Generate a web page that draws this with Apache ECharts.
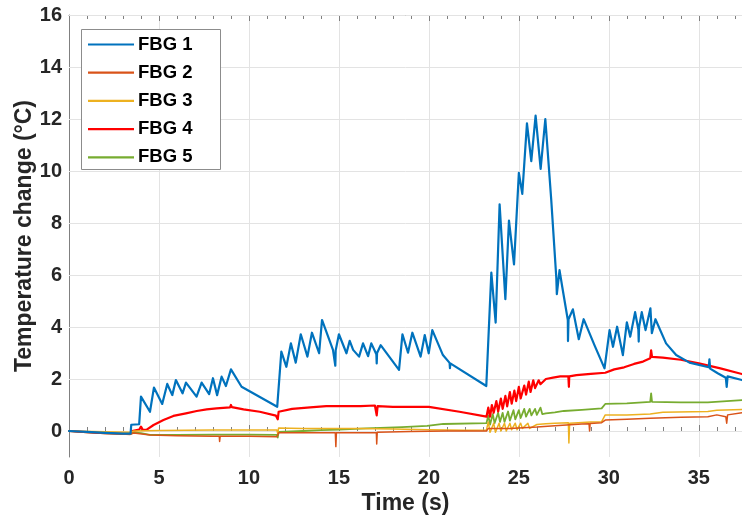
<!DOCTYPE html>
<html>
<head>
<meta charset="utf-8">
<script src="https://cdn.jsdelivr.net/npm/echarts@6/dist/echarts.min.js"></script>
<style>
html,body{margin:0;padding:0;background:#fff;}
#chart{width:742px;height:520px;}
</style>
</head>
<body>
<div id="chart"></div>
<script>
var seriesNames = ['FBG 1', 'FBG 2', 'FBG 3', 'FBG 4', 'FBG 5'];
var xTicks = [0, 5, 10, 15, 20, 25, 30, 35];
var yTicks = [0, 2, 4, 6, 8, 10, 12, 14, 16];

var fbg1T = [0, 1, 2, 3, 3.42, 3.46, 3.9, 4.0, 4.5, 4.72, 5.18, 5.46, 5.74, 5.94, 6.31, 6.5, 7.09, 7.37, 7.79, 8.0, 8.23, 8.48, 8.72, 9.0, 9.59, 11.57,
  11.8, 12.08, 12.33, 12.6, 12.88, 13.25, 13.5, 13.9, 14.06, 14.67, 14.78, 14.8, 14.82, 15.0, 15.42, 15.6, 15.79, 16.12, 16.34, 16.62, 16.8, 17.08, 17.1, 17.12, 17.32, 18.34, 18.53, 18.84, 19.08, 19.54, 19.77, 19.99, 20.19, 20.78, 21.15, 21.17, 21.19, 23.19,
  23.47, 23.71, 23.93, 24.25, 24.45, 24.73, 25.0, 25.19, 25.45, 25.69, 25.93, 26.21, 26.47, 26.8, 27.08, 27.11, 27.26, 27.41, 27.72, 27.73, 27.76, 28.0, 28.33, 28.6, 29.2, 29.76,
  30.04, 30.23, 30.46, 30.78, 31.0, 31.19, 31.46, 31.64, 31.66, 31.68, 31.83, 32.04, 32.31, 32.39, 32.59, 33.18, 33.74, 34.48, 35.55, 35.59, 35.63, 36.05, 36.5, 36.55, 36.6, 36.7, 37.4];
var fbg1V = [0, -0.03, -0.07, -0.1, -0.1, 0.24, 0.26, 1.32, 0.74, 1.67, 1.04, 1.81, 1.38, 1.96, 1.45, 1.86, 1.32, 1.86, 1.42, 2.03, 1.38, 2.09, 1.73, 2.37, 1.7, 0.93,
  3.05, 2.47, 3.37, 2.63, 3.72, 2.86, 3.78, 2.99, 4.27, 3.12, 3.05, 2.51, 3.1, 3.72, 2.99, 3.47, 3.12, 2.86, 3.37, 2.88, 3.37, 2.95, 2.6, 3.0, 3.3, 2.35, 3.72, 3.01, 3.78, 2.86, 3.69, 2.99, 3.88, 2.92, 2.62, 2.42, 2.6, 1.73,
  6.09, 4.17, 8.72, 5.07, 8.09, 6.41, 9.93, 9.12, 11.83, 10.38, 12.13, 10.08, 12.0, 8.88, 5.9, 5.26, 6.19, 5.55, 4.27, 3.46, 4.3, 4.68, 3.53, 4.3, 3.3, 2.41,
  3.88, 3.24, 4.01, 2.92, 4.18, 3.63, 4.57, 3.9, 3.44, 4.0, 4.57, 3.88, 4.72, 3.76, 4.3, 3.37, 2.92, 2.63, 2.45, 2.76, 2.4, 2.22, 2.05, 1.7, 2.1, 2.15, 1.96];

var fbg2T = [0, 2, 3.4, 3.6, 4.5, 6, 8, 8.35, 8.37, 8.4, 10, 11.55, 11.65, 13, 14.8, 14.83, 14.86, 17.08, 17.1, 17.13, 19, 21, 23.2, 23.3, 24.5, 26, 27, 28.5, 28.9, 28.93, 28.96, 29.6, 29.8, 31, 32.3, 32.4, 34, 35.5, 36, 36.5, 36.55, 36.6, 37.4];
var fbg2V = [0, -0.08, -0.13, -0.08, -0.15, -0.18, -0.2, -0.2, -0.4, -0.2, -0.2, -0.22, -0.07, -0.07, -0.07, -0.6, -0.07, -0.07, -0.5, -0.05, -0.02, 0.0, 0.0, 0.1, 0.1, 0.15, 0.2, 0.27, 0.28, 0.0, 0.29, 0.32, 0.42, 0.45, 0.49, 0.55, 0.53, 0.55, 0.62, 0.55, 0.3, 0.62, 0.7];

var fbg3T = [0, 2, 3.4, 3.6, 5, 8, 11.55, 11.6, 11.65, 13, 16, 18, 20, 22, 23.2, 23.3, 23.4, 23.6, 23.7, 23.9, 24.0, 24.2, 24.3, 24.5, 24.6, 24.8, 24.9, 25.1, 25.2, 25.5, 25.6, 26.0, 26.5, 27.0, 27.75, 27.78, 27.82, 29.0, 29.6, 29.8, 31, 32.3, 32.35, 33, 35.5, 36, 37.4];
var fbg3V = [0, -0.03, -0.05, 0.0, 0.02, 0.04, 0.04, -0.1, 0.12, 0.1, 0.1, 0.08, 0.05, 0.03, 0.04, 0.35, -0.05, 0.3, -0.05, 0.3, 0.0, 0.3, 0.0, 0.3, 0.05, 0.3, 0.05, 0.3, 0.1, 0.3, 0.1, 0.25, 0.28, 0.3, 0.32, -0.46, 0.3, 0.35, 0.36, 0.62, 0.62, 0.65, 0.72, 0.72, 0.75, 0.8, 0.83];

var fbg4T = [0, 1, 2, 3.4, 3.5, 3.9, 4.0, 4.1, 4.3, 4.7, 5.25, 5.8, 6.5, 7.1, 7.65, 8.2, 8.95, 9.0, 9.05, 9.7, 10.6, 11.5, 11.6, 11.65, 12.4, 13.4, 14.3, 16.2, 17.0, 17.1, 17.15, 18.0, 20.0, 21.7, 23.2,
  23.3, 23.4, 23.5, 23.6, 23.75, 23.85, 24.0, 24.1, 24.25, 24.35, 24.5, 24.6, 24.75, 24.85, 25.0, 25.1, 25.3, 25.4, 25.55, 25.65, 25.8, 25.9, 26.1, 26.2, 26.5, 26.9, 27.3, 27.75, 27.78, 27.8, 28.2, 29.0, 29.8, 30.3, 30.85, 31.4, 31.9, 32.3, 32.35, 32.4, 33.0, 34.0, 35.0, 36.2, 37.4];
var fbg4V = [0, -0.04, -0.08, -0.1, 0.0, 0.05, 0.17, 0.05, 0.04, 0.23, 0.42, 0.58, 0.68, 0.77, 0.83, 0.87, 0.91, 1.0, 0.92, 0.83, 0.74, 0.59, 0.45, 0.74, 0.85, 0.91, 0.96, 0.96, 0.98, 0.6, 0.96, 0.93, 0.93, 0.74, 0.55,
  0.9, 0.55, 1.0, 0.7, 1.15, 0.75, 1.25, 0.85, 1.35, 0.95, 1.5, 1.05, 1.55, 1.15, 1.7, 1.25, 1.75, 1.4, 1.9, 1.5, 1.95, 1.65, 1.95, 1.8, 2.0, 2.05, 2.1, 2.1, 1.7, 2.1, 2.15, 2.2, 2.24, 2.37, 2.45, 2.58, 2.67, 2.8, 3.1, 2.85, 2.82, 2.74, 2.6, 2.41, 2.19];

var fbg5T = [0, 1, 2, 3.4, 3.6, 4.0, 4.5, 6, 8, 10, 11.55, 11.6, 11.65, 13, 14, 15, 16.5, 18.5, 19.9, 20.8, 23.2,
  23.3, 23.4, 23.55, 23.65, 23.85, 23.95, 24.1, 24.2, 24.4, 24.5, 24.7, 24.8, 25.0, 25.1, 25.3, 25.4, 25.6, 25.7, 25.9, 26.0, 26.2, 26.3, 26.5, 27.0, 27.5, 28.5, 29.6, 29.8, 31, 32.3, 32.35, 32.4, 34, 35.5, 37.4];
var fbg5V = [0, -0.05, -0.09, -0.12, -0.05, -0.08, -0.15, -0.15, -0.14, -0.14, -0.15, -0.25, -0.03, 0.0, 0.03, 0.05, 0.1, 0.15, 0.2, 0.27, 0.3,
  0.6, 0.25, 0.65, 0.3, 0.7, 0.35, 0.7, 0.35, 0.75, 0.4, 0.8, 0.45, 0.8, 0.5, 0.85, 0.55, 0.85, 0.6, 0.85, 0.62, 0.9, 0.65, 0.68, 0.72, 0.77, 0.81, 0.87, 1.04, 1.06, 1.12, 1.45, 1.12, 1.1, 1.1, 1.19];

var colors = ['#0072BD', '#D95319', '#EDB120', '#FF0000', '#77AC30'];
var widths = [2.2, 1.5, 1.5, 2.2, 1.8];
var allT = [fbg1T, fbg2T, fbg3T, fbg4T, fbg5T];
var allV = [fbg1V, fbg2V, fbg3V, fbg4V, fbg5V];

function pairs(t, v) { return t.map(function (x, i) { return [x, v[i]]; }); }

var font = 'Liberation Sans, Arial, Helvetica, sans-serif';
var axisGray = '#808080';
var textCol = '#262626';

var series = [];
for (var k = 4; k >= 0; k--) {
  series.push({
    name: seriesNames[k], type: 'line', data: pairs(allT[k], allV[k]),
    showSymbol: false, symbol: 'none', smooth: false,
    lineStyle: { color: colors[k], width: widths[k], join: 'round', cap: 'round' }, itemStyle: { color: colors[k] },
    z: 10 - k, clip: true
  });
}

var chart = echarts.init(document.getElementById('chart'), null, { renderer: 'canvas' });
chart.setOption({
  animation: false,
  backgroundColor: '#fff',
  grid: { left: 69, right: 0, top: 15, bottom: 63, containLabel: false },
  graphic: [{
    type: 'rect', z: 100,
    shape: { x: 81.5, y: 29.5, width: 139, height: 140 },
    style: { fill: '#fff', stroke: '#8c8c8c', lineWidth: 1 }
  }],
  legend: {
    data: seriesNames.map(function (n, i) {
      return { name: n, icon: 'rect', itemStyle: { color: colors[i] } };
    }),
    orient: 'vertical', left: 86, top: 33, z: 101,
    itemWidth: 46, itemHeight: 2.2, itemGap: 9.2, padding: [2, 2, 2, 2],
    textStyle: { fontFamily: font, fontWeight: 'bold', fontSize: 18.5, color: '#000', padding: [0, 0, 0, -1] }
  },
  xAxis: [{
    type: 'value', min: 0, max: 37.4, interval: 5, position: 'bottom',
    name: 'Time (s)', nameLocation: 'middle', nameGap: 35, nameMoveOverlap: false,
    nameTextStyle: { fontFamily: font, fontWeight: 'bold', fontSize: 23, color: textCol },
    axisLine: { show: true, lineStyle: { color: axisGray, width: 1 } },
    axisTick: { show: true, inside: true, length: 6, lineStyle: { color: axisGray } },
    minorTick: { show: true, splitNumber: 5, length: 4, lineStyle: { color: axisGray } },
    axisLabel: { fontFamily: font, fontWeight: 'bold', fontSize: 20, color: textCol, margin: 11, showMaxLabel: false,
      formatter: function (v) { return xTicks.indexOf(v) >= 0 ? String(v) : ''; } },
    splitLine: { show: true, lineStyle: { color: '#e3e3e3', width: 1 } }
  }, {
    type: 'value', min: 0, max: 37.4, interval: 5, position: 'top',
    axisLine: { show: true, lineStyle: { color: axisGray, width: 1 } },
    axisTick: { show: true, inside: true, length: 6, lineStyle: { color: axisGray } },
    minorTick: { show: true, splitNumber: 5, length: 4, lineStyle: { color: axisGray } },
    axisLabel: { show: false }, splitLine: { show: false }
  }],
  yAxis: {
    type: 'value', min: -1, max: 16, interval: 1,
    name: 'Temperature change (°C)', nameLocation: 'middle', nameGap: 33, nameRotate: 90, nameMoveOverlap: false,
    nameTextStyle: { fontFamily: font, fontWeight: 'bold', fontSize: 23, color: textCol },
    axisLine: { show: true, lineStyle: { color: axisGray, width: 1 } },
    axisTick: { show: true, inside: true, length: 6, lineStyle: { color: axisGray }, customValues: yTicks },
    axisLabel: { fontFamily: font, fontWeight: 'bold', fontSize: 20, color: textCol, margin: 7, customValues: yTicks,
      formatter: function (v) { return yTicks.indexOf(v) >= 0 ? String(v) : ''; } },
    splitLine: { show: false }
  },
  series: series.concat([{
    type: 'line', xAxisIndex: 0, data: [], silent: true,
    markLine: {
      silent: true, symbol: 'none', label: { show: false },
      lineStyle: { color: '#e3e3e3', type: 'solid', width: 1 },
      data: yTicks.map(function (v) { return { yAxis: v }; })
    }, z: 1
  }])
});
</script>
</body>
</html>
